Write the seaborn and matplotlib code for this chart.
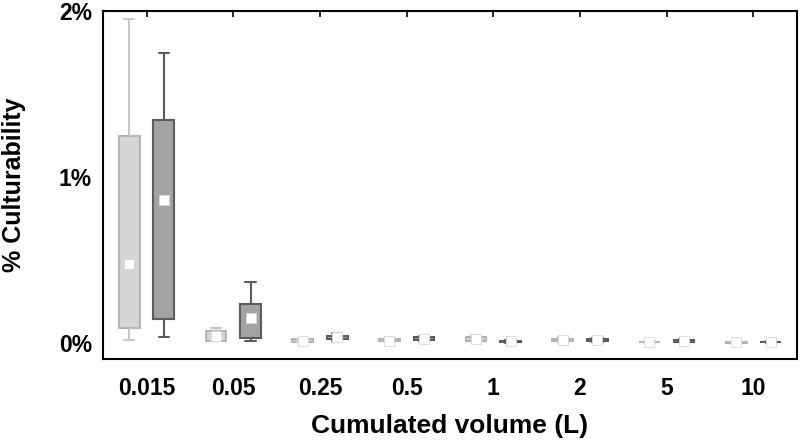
import numpy as np
import pandas as pd
import matplotlib
matplotlib.use('Agg')
import matplotlib.pyplot as plt
import seaborn as sns

# Cumulated volume categories (L)
volumes = ['0.015', '0.05', '0.25', '0.5', '1', '2', '5', '10']
groups = ['A', 'B']

# Box statistics (% culturability)
# group A (light grey)
a_low = [0.018, 0.010, 0.005, 0.005, 0.010, 0.008, 0.002, 0.002]
a_q1 = [0.090, 0.012, 0.008, 0.010, 0.015, 0.012, 0.004, 0.003]
a_mid = [0.476, 0.040, 0.015, 0.015, 0.025, 0.018, 0.006, 0.005]
a_q3 = [1.247, 0.072, 0.022, 0.025, 0.035, 0.026, 0.009, 0.007]
a_high = [1.950, 0.090, 0.025, 0.030, 0.050, 0.035, 0.012, 0.009]
# group B (dark grey)
b_low = [0.036, 0.012, 0.015, 0.010, 0.003, 0.008, 0.004, 0.002]
b_q1 = [0.145, 0.030, 0.025, 0.018, 0.006, 0.012, 0.008, 0.004]
b_mid = [0.860, 0.150, 0.035, 0.025, 0.010, 0.018, 0.012, 0.006]
b_q3 = [1.343, 0.235, 0.045, 0.035, 0.014, 0.026, 0.018, 0.009]
b_high = [1.750, 0.368, 0.060, 0.040, 0.018, 0.030, 0.022, 0.012]

rows = []
for g, stats in zip(groups, [(a_low, a_q1, a_mid, a_q3, a_high),
                             (b_low, b_q1, b_mid, b_q3, b_high)]):
    for i, v in enumerate(volumes):
        for s in stats:
            rows.append({'volume': v, 'group': g, 'value': s[i]})
df = pd.DataFrame(rows)
mids = pd.DataFrame({'volume': volumes * 2,
                     'group': ['A'] * len(volumes) + ['B'] * len(volumes),
                     'value': a_mid + b_mid})

sns.set_theme(style='white')
plt.rcParams['font.family'] = ['Liberation Sans', 'DejaVu Sans']
plt.rcParams['text.color'] = 'black'
plt.rcParams['axes.labelcolor'] = 'black'
plt.rcParams['xtick.color'] = 'black'
plt.rcParams['ytick.color'] = 'black'

fig = plt.figure(figsize=(8, 4.46), dpi=100)
ax = fig.add_axes([0.129, 0.195, 0.867, 0.78])

fills = {'A': '#d6d6d6', 'B': '#a3a3a3'}
edges = {'A': '#b4b4b4', 'B': '#5c5c5c'}

sns.boxplot(data=df, x='volume', y='value', hue='group', order=volumes,
            hue_order=groups, palette=fills, whis=np.inf, width=0.8, gap=0.4,
            linewidth=1.5, medianprops={'visible': False}, legend=False, ax=ax)

# recolour edges / whiskers per group
for i, patch in enumerate(ax.patches):
    g = groups[i // len(volumes)]
    patch.set_edgecolor(edges[g])
n_lines = len(ax.lines)
per_box = n_lines // (2 * len(volumes))
for j, line in enumerate(ax.lines):
    g = groups[(j // per_box) // len(volumes)]
    line.set_color(edges[g] if g == 'B' else '#c8c8c8')

sns.stripplot(data=mids, x='volume', y='value', hue='group', order=volumes,
              hue_order=groups, dodge=True, jitter=False, marker='s', size=7.5,
              palette={'A': 'white', 'B': 'white'}, edgecolor='#d8d8d8',
              linewidth=0.6, legend=False, ax=ax, zorder=5)

ax.set_xlim(-0.5, 7.5)
ax.set_ylim(-0.096, 2.0)
ax.set_yticks([0, 1, 2])
ax.set_yticklabels(['0%', '1%', '2%'])
ax.tick_params(direction='in', top=True, length=4, width=1.2, color='black',
               labelsize=16.5, pad=13)
ax.tick_params(axis='y', pad=8)
for lab in ax.get_xticklabels() + ax.get_yticklabels():
    lab.set_fontweight('bold')
for sp in ax.spines.values():
    sp.set_color('black')
    sp.set_linewidth(1.5)
ax.set_xlabel('Cumulated volume (L)', fontsize=19, fontweight='bold', labelpad=10)
ax.set_ylabel('% Culturability', fontsize=18, fontweight='bold', labelpad=24)

fig.savefig('out.png', dpi=100)
